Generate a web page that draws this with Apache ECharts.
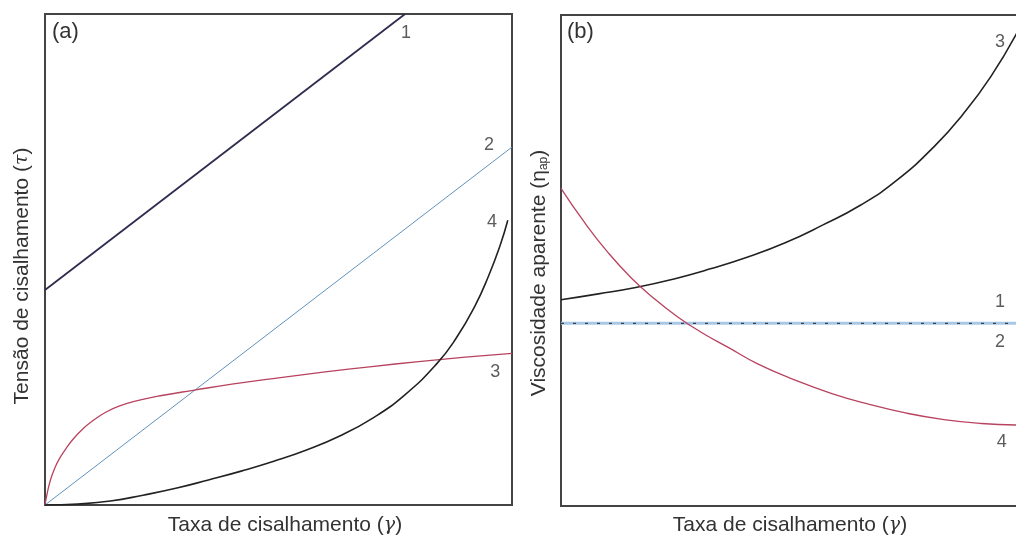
<!DOCTYPE html>
<html>
<head>
<meta charset="utf-8">
<script src="https://cdn.jsdelivr.net/npm/echarts@6/dist/echarts.min.js"></script>
<style>
  html, body { margin: 0; padding: 0; background: #fff; }
  #chart { width: 1016px; height: 535px; }
</style>
</head>
<body>
<div id="chart"></div>
<script>
// Normalised shear-rate (x) vs. response (y), both on 0..1 scales.

// (a) shear stress curves
const stressBingham = [[0, 0.438], [0.771, 1.0]];                 // 1
const stressNewtonian = [[0, 0], [1, 0.729]];                     // 2
const stressPseudo = [[0, 0], [0.005, 0.025], [0.012, 0.052], [0.02, 0.073],
  [0.03, 0.093], [0.045, 0.115], [0.06, 0.134], [0.08, 0.154], [0.10, 0.170],
  [0.13, 0.189], [0.16, 0.202], [0.20, 0.213], [0.25, 0.223], [0.32, 0.234],
  [0.40, 0.246], [0.50, 0.259], [0.60, 0.271], [0.70, 0.282], [0.80, 0.292],
  [0.90, 0.301], [1.0, 0.309]];                                   // 3
const stressDilatant = [[0, 0], [0.07, 0.002], [0.14, 0.008], [0.21, 0.020],
  [0.28, 0.034], [0.35, 0.051], [0.42, 0.069], [0.49, 0.089], [0.56, 0.112],
  [0.63, 0.140], [0.70, 0.176], [0.77, 0.224], [0.84, 0.289], [0.88, 0.339],
  [0.92, 0.404], [0.95, 0.467], [0.975, 0.530], [0.991, 0.580]];   // 4

// (b) apparent viscosity curves
const viscConstant = [[0, 0.372], [1, 0.372]];                    // 1 and 2
const viscDilatant = [[0, 0.420], [0.08, 0.432], [0.16, 0.445], [0.24, 0.462],
  [0.32, 0.483], [0.40, 0.507], [0.48, 0.536], [0.56, 0.572], [0.64, 0.612],
  [0.72, 0.664], [0.80, 0.733], [0.86, 0.797], [0.92, 0.874], [0.976, 0.963]]; // 3
const viscPseudo = [[0, 0.647], [0.05, 0.578], [0.10, 0.517], [0.15, 0.465],
  [0.20, 0.422], [0.25, 0.385], [0.30, 0.354], [0.36, 0.322], [0.42, 0.290],
  [0.50, 0.257], [0.58, 0.229], [0.66, 0.207], [0.74, 0.189], [0.82, 0.176],
  [0.90, 0.168], [0.976, 0.165]];                                 // 4

// Curve number tags: [text, x, y] in each panel's data space
const tagsA = [['1', 0.773, 0.961], ['2', 0.951, 0.733], ['4', 0.957, 0.576], ['3', 0.964, 0.271]];
const tagsB = [['3', 0.940, 0.945], ['1', 0.940, 0.415], ['2', 0.940, 0.334], ['4', 0.944, 0.130]];

const xTitle = 'Taxa de cisalhamento';
const yTitleA = 'Tensão de cisalhamento';
const yTitleB = 'Viscosidade aparente';

const FONT = '"Liberation Sans", Arial, sans-serif';
const TEXT = '#333';

const chart = echarts.init(document.getElementById('chart'));

function axisPair(i) {
  return {
    x: { type: 'value', gridIndex: i, min: 0, max: 1, show: false },
    y: { type: 'value', gridIndex: i, min: 0, max: 1, show: false }
  };
}
const ax0 = axisPair(0), ax1 = axisPair(1);

function curve(idx, data, color, width, extra) {
  return Object.assign({
    type: 'line', xAxisIndex: idx, yAxisIndex: idx, data: data,
    smooth: 0.5, showSymbol: false, symbol: 'none', silent: true,
    lineStyle: { color: color, width: width }
  }, extra || {});
}

function tags(idx, list) {
  return {
    type: 'scatter', xAxisIndex: idx, yAxisIndex: idx, symbolSize: 0, silent: true,
    data: list.map(t => ({ value: [t[1], t[2]], name: t[0] })),
    label: { show: true, position: 'inside', formatter: p => p.name,
      fontSize: 18, fontFamily: FONT, color: TEXT }
  };
}

const italic = { fontStyle: 'italic', fontFamily: '"DejaVu Serif", serif', fontSize: 19, fill: TEXT };

function title(text, x, y, rotated, rich) {
  return {
    type: 'text', x: x, y: y, rotation: rotated ? Math.PI / 2 : 0,
    style: { text: text, align: 'center', verticalAlign: 'middle',
      fontSize: 21, fontFamily: FONT, fill: TEXT, rich: rich }
  };
}

chart.setOption({
  animation: false,
  backgroundColor: '#fff',
  grid: [
    { left: 45, top: 14, width: 467, height: 491, show: true, borderColor: '#444', borderWidth: 2, outerBoundsMode: 'none' },
    { left: 561, top: 15, width: 467, height: 491, show: true, borderColor: '#444', borderWidth: 2, outerBoundsMode: 'none' }
  ],
  xAxis: [ax0.x, ax1.x],
  yAxis: [ax0.y, ax1.y],
  series: [
    curve(0, stressBingham, '#2f2d4e', 1.8, { smooth: false }),
    curve(0, stressNewtonian, '#5f93bd', 1, { smooth: false }),
    curve(0, stressPseudo, '#b8435f', 1.3),
    curve(0, stressDilatant, '#222', 1.6),
    tags(0, tagsA),
    curve(1, viscConstant, '#a8c8e6', 3, { smooth: false }),
    curve(1, viscConstant, '#3a4050', 1.2, { smooth: false, lineStyle: { color: '#3a4050', width: 1.2, type: [3, 9] } }),
    curve(1, viscDilatant, '#222', 1.6),
    curve(1, viscPseudo, '#b8435f', 1.3),
    tags(1, tagsB)
  ],
  graphic: [
    { type: 'text', left: 52, top: 21, style: { text: '(a)', fontSize: 22, fontFamily: FONT, fill: TEXT } },
    { type: 'text', left: 567, top: 21, style: { text: '(b)', fontSize: 22, fontFamily: FONT, fill: TEXT } },
    title(xTitle + ' ({i|γ})', 285, 525, false, { i: italic }),
    title(xTitle + ' ({i|γ})', 790, 525, false, { i: italic }),
    title(yTitleA + ' ({i|τ})', 22, 276, true, { i: italic }),
    title(yTitleB + ' (η{s|ap})', 539, 273, true,
      { s: { fontSize: 12, fontFamily: FONT, fill: TEXT, verticalAlign: 'bottom', padding: [9, 0, 0, 0] } })
  ]
});
</script>
</body>
</html>
